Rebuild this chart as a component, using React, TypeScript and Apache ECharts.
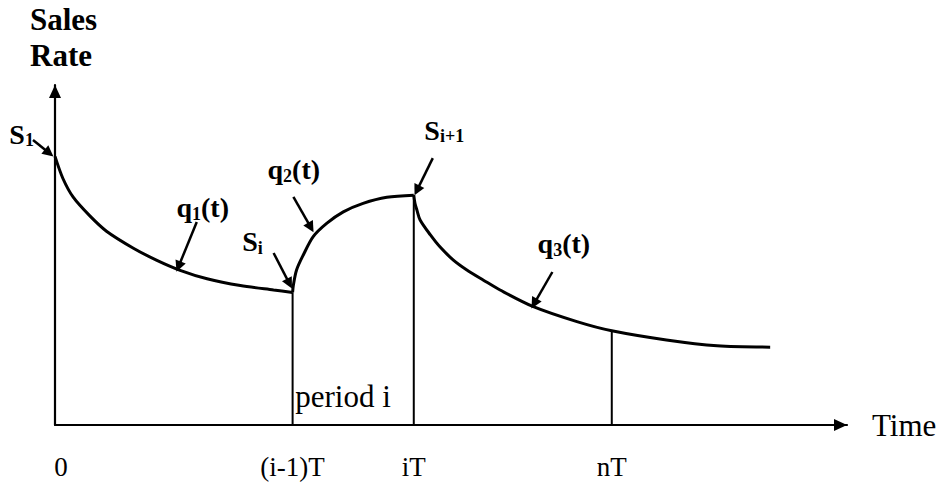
import React, { useEffect, useRef } from "react";
import * as echarts from "echarts";

// x ticks (time axis) and their labels
const tickValues = [0, 30, 45.3, 70.3];
const tickLabels = ["0", "(i-1)T", "iT", "nT"];

// sales-rate curves [time, rate]
const q1 = [
  [0, 79], [1, 72.5], [2.3, 67], [4.4, 61.5], [6.5, 57], [9.9, 52], [12.8, 48.5],
  [15.8, 45.5], [19.2, 43], [23.4, 41], [27.6, 39.7], [30, 39],
];
const q2 = [
  [30, 39], [30.1, 41.2], [30.5, 45.6], [31.35, 50], [32.6, 55.4], [34.3, 59.3],
  [36.4, 62.7], [38.9, 65.2], [41.9, 67], [45.3, 67.6],
];
const q3 = [
  [45.3, 67.6], [45.45, 65.2], [45.7, 63.2], [46.1, 60.3], [47.4, 55.9], [48.6, 52.4],
  [50.3, 48.5], [52, 45.6], [54.1, 42.6], [56.2, 39.7], [60.4, 34.8], [65.9, 30.4],
  [70.3, 27.7], [77.2, 25], [83.6, 23.3], [90.3, 22.9],
];

// vertical period boundaries
const boundaryX = [30, 45.3, 70.3];
const boundaryTop = [39, 67.6, 27.7];

// annotation labels
const annotationTexts = [
  "{m|S}{s|1}",
  "{m|q}{s|1}{m|(t)}",
  "{m|S}{s|i}",
  "{m|q}{s|2}{m|(t)}",
  "{m|S}{s|i+1}",
  "{m|q}{s|3}{m|(t)}",
];
const annotationAnchors = [
  [-5.7, 85.3], [15.4, 63.8], [23.7, 53.8], [26.9, 75], [46.7, 86.5], [61, 53.2],
];
const arrowFrom = [
  [-2.78, 83.8], [17.9, 59.7], [27.6, 50.6], [30.1, 67.1], [47.7, 78.5], [62.8, 45],
];
const arrowTo = [
  [-0.74, 80], [15.6, 46.6], [29.6, 41.6], [32.3, 58.1], [45.7, 69], [60.5, 35.7],
];

const periodLabel = "period i";
const periodAnchor = [30.4, 8.2];

const yTitle = ["Sales", "Rate"];
const xTitle = "Time";

const serif = "'Liberation Serif', 'Times New Roman', serif";

const noBorder = { textBorderWidth: 0, textBorderColor: "transparent", textShadowBlur: 0 };

export default function App() {
  const ref = useRef<HTMLDivElement>(null);

  useEffect(() => {
    if (!ref.current) return;
    const chart = echarts.init(ref.current, null, { renderer: "svg" });

    const curveSeries = [q1, q2, q3].map((d, i) => ({
      name: "q" + (i + 1),
      type: "line",
      data: d,
      showSymbol: false,
      smooth: 0.3,
      silent: true,
      lineStyle: { color: "#000", width: 3 },
      itemStyle: { color: "#000" },
      z: 3,
    }));

    const boundarySeries = boundaryX.map((x, i) => ({
      type: "line",
      data: [
        [x, 0],
        [x, boundaryTop[i]],
      ],
      showSymbol: false,
      silent: true,
      lineStyle: { color: "#000", width: 2 },
      itemStyle: { color: "#000" },
      z: 2,
    }));

    const option: any = {
      animation: false,
      backgroundColor: "#fff",
      grid: { left: 55, top: 85, width: 792, height: 340 },
      xAxis: {
        type: "value",
        min: 0,
        max: 100,
        axisLine: {
          show: true,
          onZero: false,
          symbol: ["none", "triangle"],
          symbolSize: [12, 13],
          symbolOffset: [0, -6.5],
          lineStyle: { color: "#000", width: 2.2 },
        },
        axisTick: { show: false },
        splitLine: { show: false },
        axisLabel: {
          customValues: tickValues,
          margin: 28,
          color: "#000",
          fontFamily: serif,
          fontSize: 27,
          formatter: (v: number) => {
            let idx = 0;
            tickValues.forEach((t, i) => {
              if (Math.abs(t - v) < 0.01) idx = i;
            });
            return idx === 0 ? "{z|" + tickLabels[0] + "}" : tickLabels[idx];
          },
          rich: {
            z: { padding: [0, 0, 0, 12], fontFamily: serif, fontSize: 27, color: "#000" },
          },
        },
        name: xTitle,
        nameLocation: "end",
        nameGap: 25,
        nameTextStyle: {
          fontFamily: serif,
          fontSize: 31,
          color: "#000",
          align: "left",
          verticalAlign: "middle",
        },
      },
      yAxis: {
        type: "value",
        min: 0,
        max: 100,
        axisLine: {
          show: true,
          onZero: false,
          symbol: ["none", "triangle"],
          symbolSize: [12, 13],
          symbolOffset: [0, -6.5],
          lineStyle: { color: "#000", width: 2.2 },
        },
        axisTick: { show: false },
        axisLabel: { show: false },
        splitLine: { show: false },
      },
      graphic: [
        {
          type: "text",
          x: 30,
          y: 19,
          silent: true,
          style: {
            text: yTitle[0],
            fontFamily: serif,
            fontSize: 31,
            fontWeight: "bold",
            fill: "#000",
            align: "left",
            verticalAlign: "middle",
          },
        },
        {
          type: "text",
          x: 30,
          y: 55,
          silent: true,
          style: {
            text: yTitle[1],
            fontFamily: serif,
            fontSize: 31,
            fontWeight: "bold",
            fill: "#000",
            align: "left",
            verticalAlign: "middle",
          },
        },
      ],
      series: [
        ...curveSeries,
        ...boundarySeries,
        {
          type: "lines",
          coordinateSystem: "cartesian2d",
          clip: false,
          silent: true,
          symbol: ["none", "triangle"],
          symbolSize: [0, 11],
          lineStyle: { color: "#000", width: 2.5, opacity: 1, curveness: 0 },
          itemStyle: { color: "#000" },
          data: arrowFrom.map((f, i) => ({ coords: [f, arrowTo[i]] })),
          z: 4,
        },
        {
          type: "scatter",
          clip: false,
          silent: true,
          symbolSize: 1,
          itemStyle: { color: "#000", opacity: 0 },
          data: annotationAnchors.map((p, i) => ({
            value: p,
            label: { formatter: annotationTexts[i] },
          })),
          label: {
            show: true,
            position: [0, 0],
            align: "left",
            verticalAlign: "middle",
            color: "#000",
            opacity: 1,
            ...noBorder,
            rich: {
              m: {
                fontFamily: serif,
                fontSize: 28,
                fontWeight: "bold",
                lineHeight: 30,
                color: "#000",
                ...noBorder,
              },
              s: {
                fontFamily: serif,
                fontSize: 18,
                fontWeight: "bold",
                lineHeight: 18,
                verticalAlign: "bottom",
                color: "#000",
                ...noBorder,
              },
            },
          },
          z: 5,
        },
        {
          type: "scatter",
          clip: false,
          silent: true,
          symbolSize: 1,
          itemStyle: { color: "#000", opacity: 0 },
          data: [{ value: periodAnchor, label: { formatter: periodLabel } }],
          label: {
            show: true,
            position: [0, 0],
            align: "left",
            verticalAlign: "middle",
            color: "#000",
            opacity: 1,
            ...noBorder,
            fontFamily: serif,
            fontSize: 31,
          },
          z: 5,
        },
      ],
    };

    chart.setOption(option);
    return () => chart.dispose();
  }, []);

  return (
    <div
      ref={ref}
      style={{ position: "fixed", left: 0, top: 0, width: 942, height: 492, background: "#fff" }}
    />
  );
}
